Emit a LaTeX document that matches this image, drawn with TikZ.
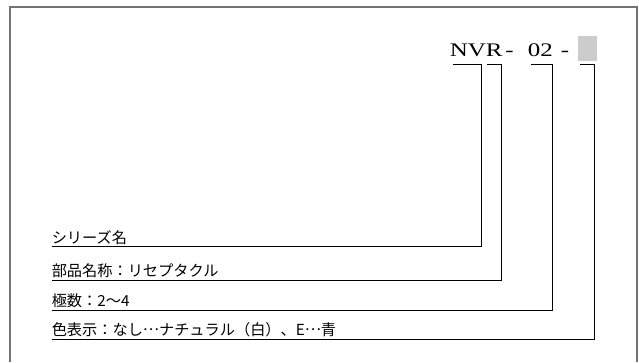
\documentclass[tikz,border=0pt]{standalone}
\usepackage{graphicx}
\usepackage{fontspec}
\setmainfont{Liberation Serif}
\newfontfamily\jpfont{Noto Sans CJK JP}
\newcommand{\middots}{\raisebox{0.3em}{…}}
\newcommand{\wide}[1]{\scalebox{1.3}[1]{#1}}
\tikzset{
  code/.style={inner sep=0pt, anchor=base west,
    font=\fontsize{14.4pt}{16pt}\selectfont},
  label/.style={inner xsep=0pt, inner ysep=1.6pt, anchor=south west,
    font=\jpfont\fontsize{11.4pt}{13pt}\selectfont},
  lead/.style={line width=0.75pt, black},
}
\begin{document}
\begin{tikzpicture}[x=0.75pt, y=-0.75pt]
      \useasboundingbox (0,0) rectangle (639,362);
      % frame, open at the bottom
      \draw[line width=1.1pt, color=black!55] (10,362) -- (10,7) -- (637,7) -- (637,362);
      % model code
      \draw
        (449.5,56) node[code] (nvr){\wide{NVR}}
        (505,56) node[code] (d1){\wide{-}}
        (527.5,56) node[code] (pins){\wide{02}}
        (560.5,56) node[code] (d2){\wide{-}};
      \fill[black!20] (578,36) rectangle (597,61);
      \node[inner sep=0pt, minimum width=19*0.75pt, minimum height=25*0.75pt] (blank) at (587.5,48.5) {};
      % labels
      \draw
        (51.5,246.7) node[label] (series){シリーズ名}
        (51.5,280) node[label] (part){部品名称：リセプタクル}
        (51.5,310) node[label] (poles){極数：2〜4}
        (51.5,339) node[label] (colour){色表示：なし\middots ナチュラル（白）、E\middots 青};
      % bracket ends
      \coordinate (a1) at (453,64);
      \coordinate (b1) at (481.7,64);
      \coordinate (a2) at (487,64);
      \coordinate (b2) at (501.7,64);
      \coordinate (a3) at (531,64);
      \coordinate (b3) at (552.7,64);
      \coordinate (a4) at (580,64);
      \coordinate (b4) at (594.3,64);
      \begin{scope}[lead]
        \draw (series.south west) -| (b1) -- (a1);
        \draw (part.south west) -| (b2) -- (a2);
        \draw (poles.south west) -| (b3) -- (a3);
        \draw (colour.south west) -| (b4) -- (a4);
      \end{scope}
    \end{tikzpicture}
\end{document}
